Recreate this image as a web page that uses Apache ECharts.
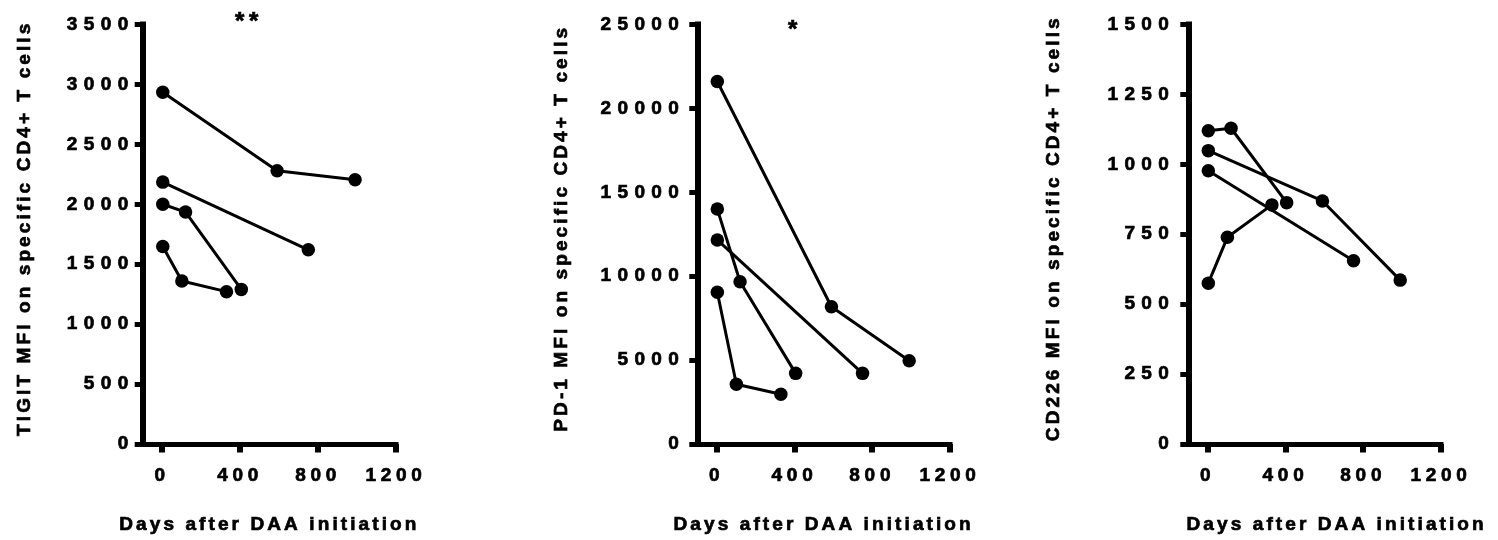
<!DOCTYPE html>
<html><head><meta charset="utf-8">
<script src="https://cdn.jsdelivr.net/npm/echarts@6/dist/echarts.min.js"></script>
<style>
html,body{margin:0;padding:0;background:#fff}
#c{width:1498px;height:540px}
</style></head><body><div id="c"></div>
<script>
// ---- data ----
const dayTicks = [0, 400, 800, 1200];
const daysA = [3, 590, 990];
const daysB = [3, 750];
const daysC = [3, 120, 406];
const daysD = [3, 101, 330];

const tigitA = [2935, 2280, 2205];
const tigitB = [2185, 1620];
const tigitC = [2000, 1935, 1290];
const tigitD = [1648, 1360, 1271];

const pd1A = [21600, 8180, 4960];
const pd1B = [12160, 4210];
const pd1C = [14000, 9670, 4210];
const pd1D = [9040, 3560, 2960];

const cd226A = [1049, 869, 586];
const cd226B = [977, 655];
const cd226C = [1120, 1129, 863];
const cd226D = [575, 739, 855];

const yTitles = ['TIGIT MFI on specific CD4+ T cells', 'PD-1 MFI on specific CD4+ T cells', 'CD226 MFI on specific CD4+ T cells'];
const xTitle = 'Days after DAA initiation';
const yMax = [3500, 25000, 1500];
const yInterval = [500, 5000, 250];
const signif = ['**', '*', ''];

// ---- letter spacing for canvas text (chosen by font weight) ----
(function () {
  const proto = CanvasRenderingContext2D.prototype;
  if (!('letterSpacing' in proto)) return;
  function spacingFor(f) {
    if (/(^|\s)bold(\s|$)|(^|\s)700(\s|$)/.test(f)) return '6.4px';
    if (/(^|\s)600(\s|$)/.test(f)) return '4.7px';
    if (/(^|\s)800(\s|$)/.test(f)) return '3.1px';
    return '0px';
  }
  ['fillText', 'strokeText'].forEach(function (name) {
    const orig = proto[name];
    proto[name] = function (t, x, y, m) {
      const prev = this.letterSpacing;
      this.letterSpacing = spacingFor(this.font || '');
      const r = m === undefined ? orig.call(this, t, x, y) : orig.call(this, t, x, y, m);
      this.letterSpacing = prev;
      return r;
    };
  });
})();

// ---- layout ----
const FONT = '"Liberation Sans", Arial, Helvetica, sans-serif';
const FS = 19;
const HEAVY = {textBorderColor: '#000', textBorderWidth: 0.7};
const gridsPos = [
  {left: 142.7, top: 24.5, width: 253.3, height: 419.5},
  {left: 697.3, top: 24.5, width: 252.7, height: 419.5},
  {left: 1188.3, top: 24.5, width: 252.7, height: 419.5}
];
const yLabelMargin = [8, 12, 13];
const yNameGap = [108, 126, 125];
const xNamePad = [[0,0,0,0],[0,0,0,0],[0,0,0,44]];

const days = [daysA, daysB, daysC, daysD];
const panelVals = [
  [tigitA, tigitB, tigitC, tigitD],
  [pd1A, pd1B, pd1C, pd1D],
  [cd226A, cd226B, cd226C, cd226D]
];
const plain = v => String(v);

const grid = [], xAxis = [], yAxis = [], series = [];
for (let p = 0; p < 3; p++) {
  grid.push(Object.assign({containLabel: false}, gridsPos[p]));
  xAxis.push({
    type: 'value', gridIndex: p, min: -100, max: 1200,
    name: xTitle, nameLocation: 'middle', nameGap: 71,
    nameTextStyle: Object.assign({color: '#000', fontFamily: FONT, fontWeight: 800, fontSize: FS, padding: xNamePad[p]}, HEAVY),
    axisLine: {show: true, onZero: false, lineStyle: {color: '#000', width: 5, cap: 'square'}},
    axisTick: {show: true, customValues: dayTicks, length: 8.5, lineStyle: {color: '#000', width: 6}},
    axisLabel: Object.assign({customValues: dayTicks, formatter: plain, color: '#000', fontFamily: FONT, fontWeight: 600, fontSize: FS, margin: 22}, HEAVY),
    splitLine: {show: false}
  });
  yAxis.push({
    type: 'value', gridIndex: p, min: 0, max: yMax[p], interval: yInterval[p],
    name: yTitles[p], nameLocation: 'middle', nameGap: yNameGap[p], nameRotate: 90,
    nameTextStyle: Object.assign({color: '#000', fontFamily: FONT, fontWeight: 800, fontSize: FS, padding: [0, 0, 0, 12]}, HEAVY),
    axisLine: {show: true, onZero: false, lineStyle: {color: '#000', width: 6, cap: 'square'}},
    axisTick: {show: true, length: 8, lineStyle: {color: '#000', width: 5}},
    axisLabel: Object.assign({formatter: plain, color: '#000', fontFamily: FONT, fontWeight: 'bold', fontSize: FS, margin: yLabelMargin[p]}, HEAVY),
    splitLine: {show: false}
  });
  for (let s = 0; s < 4; s++) {
    series.push({
      type: 'line', xAxisIndex: p, yAxisIndex: p,
      data: days[s].map((d, i) => [d, panelVals[p][s][i]]),
      symbol: 'circle', symbolSize: 13.5, showAllSymbol: true,
      lineStyle: {color: '#000', width: 3},
      itemStyle: {color: '#000'},
      animation: false, silent: true, z: 3
    });
  }
}

const chart = echarts.init(document.getElementById('c'), null, {renderer: 'canvas'});
chart.setOption({
  animation: false,
  backgroundColor: '#fff',
  grid, xAxis, yAxis, series,
  graphic: [
    {type: 'text', x: 249, y: 22, style: {text: signif[0], fill: '#000', stroke: '#000', lineWidth: 0.7, font: '600 24px ' + FONT, textAlign: 'center', textVerticalAlign: 'middle'}},
    {type: 'text', x: 795, y: 30, style: {text: signif[1], fill: '#000', stroke: '#000', lineWidth: 0.7, font: '600 24px ' + FONT, textAlign: 'center', textVerticalAlign: 'middle'}}
  ]
});
</script></body></html>
